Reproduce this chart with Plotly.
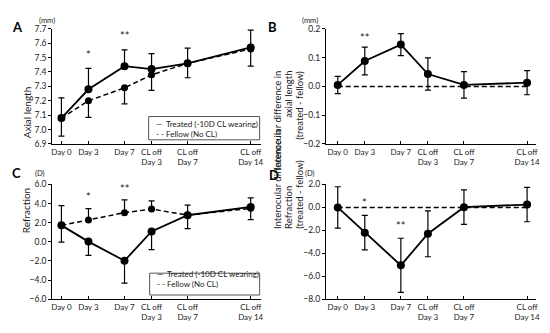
import plotly.graph_objects as go

# ---------------- data ----------------
days = [0, 3, 7, 10, 14, 21]
tick_labels = ["Day 0", "Day 3", "Day 7", "CL off<br>Day 3", "CL off<br>Day 7", "CL off<br>Day 14"]

axial_treated = [7.08, 7.28, 7.44, 7.42, 7.46, 7.57]
axial_treated_err = [0.14, 0.145, 0.113, 0.108, 0.106, 0.12]
axial_fellow = [7.08, 7.20, 7.29, 7.38, 7.46, 7.56]
axial_fellow_err = [0.125, 0.115, 0.112, 0.108, 0.10, 0.12]

axial_diff = [0.005, 0.088, 0.145, 0.043, 0.005, 0.013]
axial_diff_err = [0.030, 0.048, 0.038, 0.056, 0.046, 0.042]

refr_treated = [1.72, 0.02, -1.98, 1.08, 2.78, 3.65]
refr_treated_err = [1.75, 1.44, 2.34, 1.90, 1.41, 1.34]
refr_fellow = [1.72, 2.27, 3.05, 3.42, 2.80, 3.50]
refr_fellow_err = [2.07, 1.21, 1.34, 0.87, 1.04, 1.10]

refr_diff = [0.0, -2.2, -5.05, -2.3, 0.02, 0.25]
refr_diff_err = [1.8, 1.5, 2.36, 2.0, 1.5, 1.5]

zero_line = [0, 0, 0, 0, 0, 0]

sig_A = {"x": [3, 7], "y": [7.52, 7.65], "text": ["*", "**"]}
sig_B = {"x": [3, 7], "y": [0.17, 0.22], "text": ["**", "***"]}
sig_C = {"x": [3, 7], "y": [4.7, 5.6], "text": ["*", "**"]}
sig_D = {"x": [3, 7], "y": [0.45, -1.55], "text": ["*", "**"]}

legend_names = ["Treated (-10D CL wearing)", "Fellow (No CL)"]

# ---------------- figure ----------------
W, H = 550, 333
FONT = "Lato"
BLACK = "#000000"
TXT = "#1a1a1a"


def px(x):
    return x / W


def py(y):
    return 1 - y / H


fig = go.Figure()

MS = 7


def add_pair(treated, t_err, t_up, fellow, f_err, xa, ya):
    zeros = [0] * len(days)
    fig.add_trace(go.Scatter(
        x=days, y=fellow, mode="lines+markers", name=legend_names[1],
        line=dict(color=BLACK, width=1.5, dash="5px,3px"),
        marker=dict(color=BLACK, size=MS),
        error_y=dict(type="data", symmetric=False,
                     array=(zeros if t_up else f_err),
                     arrayminus=(f_err if t_up else zeros),
                     color=BLACK, thickness=1.2, width=3),
        xaxis=xa, yaxis=ya, showlegend=False))
    fig.add_trace(go.Scatter(
        x=days, y=treated, mode="lines+markers", name=legend_names[0],
        line=dict(color=BLACK, width=1.8),
        marker=dict(color=BLACK, size=MS + 1),
        error_y=dict(type="data", symmetric=False,
                     array=(t_err if t_up else zeros),
                     arrayminus=(zeros if t_up else t_err),
                     color=BLACK, thickness=1.2, width=3),
        xaxis=xa, yaxis=ya, showlegend=False))


def add_diff(vals, errs, xa, ya):
    fig.add_trace(go.Scatter(
        x=days, y=zero_line, mode="lines", name="zero",
        line=dict(color=BLACK, width=1.5, dash="5px,3px"),
        xaxis=xa, yaxis=ya, showlegend=False, hoverinfo="skip"))
    fig.add_trace(go.Scatter(
        x=days, y=vals, mode="lines+markers", name="Treated - Fellow",
        line=dict(color=BLACK, width=1.8),
        marker=dict(color=BLACK, size=MS + 1),
        error_y=dict(type="data", array=errs, color=BLACK, thickness=1.2, width=3),
        xaxis=xa, yaxis=ya, showlegend=False))


add_pair(axial_treated, axial_treated_err, True, axial_fellow, axial_fellow_err, "x", "y")
add_diff(axial_diff, axial_diff_err, "x2", "y2")
add_pair(refr_treated, refr_treated_err, False, refr_fellow, refr_fellow_err, "x3", "y3")
add_diff(refr_diff, refr_diff_err, "x4", "y4")

# domains (pixel based)
left_x = [px(51.7), px(262)]
right_x = [px(328), px(540)]
top_y = [py(143.3), py(24.5)]
bot_y = [py(303.3), py(185)]

xbase = dict(tickvals=days, ticktext=tick_labels, showline=True, linecolor=BLACK,
             linewidth=1.3, ticks="inside", ticklen=3, tickcolor=BLACK,
             showgrid=False, zeroline=False,
             tickfont=dict(family=FONT, size=8, color=TXT))
ybase = dict(showline=True, linecolor=BLACK, linewidth=1.3, ticks="outside",
             ticklen=3, tickcolor=BLACK, showgrid=False, zeroline=False,
             tickformat=".1f", tickfont=dict(family=FONT, size=8.5, color=TXT))

fig.update_layout(
    width=W, height=H,
    margin=dict(l=0, r=0, t=0, b=0),
    paper_bgcolor="white", plot_bgcolor="white",
    font=dict(family=FONT, color=TXT),
    xaxis=dict(xbase, domain=left_x, range=[-1.02, 22.1], anchor="y"),
    yaxis=dict(ybase, domain=top_y, range=[6.9, 7.7], dtick=0.1, anchor="x"),
    xaxis2=dict(xbase, domain=right_x, range=[-1.3, 22.0], anchor="y2"),
    yaxis2=dict(ybase, domain=top_y, range=[-0.2, 0.2], dtick=0.1, anchor="x2"),
    xaxis3=dict(xbase, domain=left_x, range=[-1.02, 22.1], anchor="y3"),
    yaxis3=dict(ybase, domain=bot_y, range=[-6, 6], dtick=2, anchor="x3"),
    xaxis4=dict(xbase, domain=right_x, range=[-1.3, 22.0], anchor="y4"),
    yaxis4=dict(ybase, domain=bot_y, range=[-8, 2], dtick=2, anchor="x4"),
)

ann = []

# significance marks
for sig, xr, yr in [(sig_A, "x", "y"), (sig_B, "x2", "y2"), (sig_C, "x3", "y3"), (sig_D, "x4", "y4")]:
    for xv, yv, t in zip(sig["x"], sig["y"], sig["text"]):
        ann.append(dict(x=xv, y=yv, xref=xr, yref=yr, text=t, showarrow=False,
                        font=dict(family=FONT, size=11, color=TXT)))

# panel letters
for lab, x, y in [("A", 9, 12), ("B", 274, 12), ("C", 9, 173), ("D", 275, 175)]:
    ann.append(dict(x=px(x), y=py(y), xref="paper", yref="paper", text="<b>%s</b>" % lab,
                    showarrow=False, font=dict(family=FONT, size=13, color=BLACK)))

# units
for lab, x, y in [("(mm)", 37, 10.5), ("(mm)", 312, 10.5), ("(D)", 33, 174), ("(D)", 312, 174)]:
    ann.append(dict(x=px(x), y=py(y), xref="paper", yref="paper", text=lab,
                    showarrow=False, borderpad=0,
                    font=dict(family=FONT, size=7.5, color=TXT)))

# y-axis titles
ann.append(dict(x=px(18), y=py(82), xref="paper", yref="paper", text="Axial length",
                textangle=-90, showarrow=False, font=dict(family=FONT, size=10, color=TXT)))
ann.append(dict(x=px(18), y=py(237), xref="paper", yref="paper", text="Refraction",
                textangle=-90, showarrow=False, font=dict(family=FONT, size=10, color=TXT)))
for lines, yc in [(["Interocular difference in", "axial length", "(treated - fellow)"], 67),
                  (["Interocular difference in", "Refraction", "(treated - fellow)"], 232)]:
    for i, t in enumerate(lines):
        ann.append(dict(x=px(279 + 11 * i), y=py(yc), xref="paper", yref="paper", text=t,
                        textangle=-90, showarrow=False, borderpad=0,
                        font=dict(family=FONT, size=9.5, color=TXT)))

# legends (boxes with line keys)
shapes = []
for (x0, y0, x1, y1) in [(149, 115, 261, 139), (150, 276.5, 261, 299)]:
    shapes.append(dict(type="rect", xref="paper", yref="paper",
                       x0=px(x0), x1=px(x1), y0=py(y1), y1=py(y0),
                       line=dict(color="#555555", width=1), fillcolor="white", layer="above"))
    r1 = y0 + 7.5
    r2 = y0 + 17.5
    for (sym, name, yy) in [("\u2014", legend_names[0], r1), ("- -", legend_names[1], r2)]:
        ann.append(dict(x=px(x0 + 6), y=py(yy), xref="paper", yref="paper", text=sym,
                        xanchor="left", showarrow=False, borderpad=0,
                        font=dict(family=FONT, size=8, color=TXT)))
        ann.append(dict(x=px(x0 + 17), y=py(yy), xref="paper", yref="paper", text=name,
                        xanchor="left", showarrow=False, borderpad=0,
                        font=dict(family=FONT, size=8, color=TXT)))

fig.update_layout(annotations=ann, shapes=shapes)

fig.write_html("out.html", config={"displayModeBar": False},
               post_script="document.body.style.margin='0';document.body.style.padding='0';")
